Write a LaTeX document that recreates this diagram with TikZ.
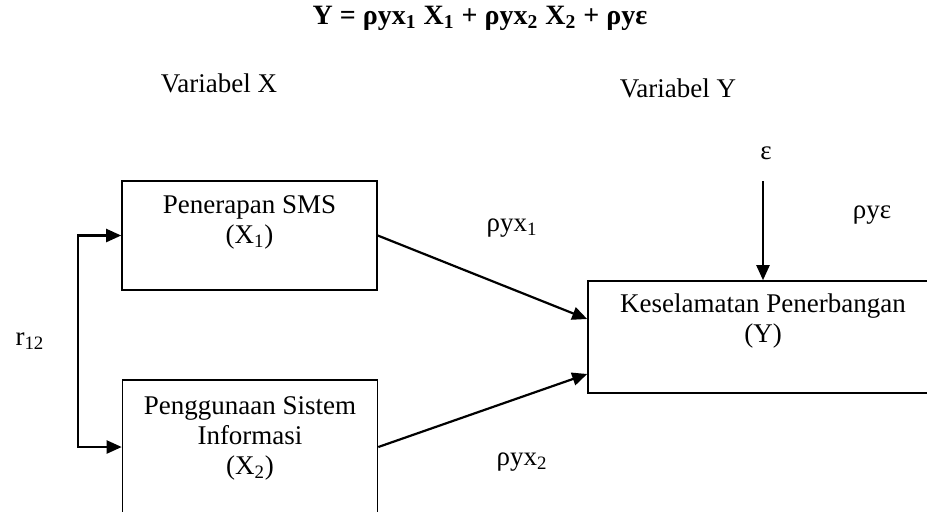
\documentclass[tikz,border=0pt]{standalone}
\usepackage{fontspec}
\setmainfont{Liberation Serif}
\usetikzlibrary{positioning, arrows.meta}
\tikzset{
x=0.5pt, y=-0.5pt, % one unit is one pixel of the figure, y runs downwards
>={Triangle[length=7.5pt, width=6.5pt]}, % filled arrow heads
every node/.style={font=\fontsize{13.5}{15}\selectfont},
var/.style={draw, line width=0.8pt, minimum width=127.5pt}, % boxes of the variables
link/.style={->, line width=1.1pt}, % arrows between the boxes
}

\begin{document}
\begin{tikzpicture}
\useasboundingbox (0,0) rectangle (927,511);
% equation and headings
\node[font=\fontsize{14}{16}\selectfont\bfseries] (eq) at (480,18)
  {Y = ρyx\textsubscript{1} X\textsubscript{1} + ρyx\textsubscript{2} X\textsubscript{2} + ρyε};
\node (varx) at (219,83) {Variabel X};
\node (vary) at (678,88) {Variabel Y};
% boxes
\node[var, minimum height=54.5pt] (sms) at (249.5,235.5) {};
\node[below=4pt of sms.north, align=center] (smstext) {Penerapan SMS\\(X\textsubscript{1})};
\node[var, minimum height=67pt] (si) at (250,447) {};
\node[below=5pt of si.north, align=center] (sitext) {Penggunaan Sistem\\Informasi\\(X\textsubscript{2})};
\node[var, minimum width=175pt, minimum height=56pt] (kp) at (763,337) {};
\node[below=3pt of kp.north, align=center] (kptext) {Keselamatan Penerbangan\\(Y)};
% error term
\node (eps) at (766,153) {ε};
\coordinate (epstop) at (763,181);
\node (rhoeps) at (872,215) {ρyε};
% path labels
\node (p1) at (512,228) {ρyx\textsubscript{1}};
\node (p2) at (522,462) {ρyx\textsubscript{2}};
\node (r) at (30,341) {r\textsubscript{12}};
% paths
\draw[link] (sms.east) -- ([yshift=9pt]kp.west);
\draw[link] (si.east) -- ([yshift=-18.5pt]kp.west);
\draw[link] (epstop) -- (kp.north);
\draw[link, <->] (sms.west) -- ++(-43,0) |- (si.west);
\end{tikzpicture}
\end{document}
